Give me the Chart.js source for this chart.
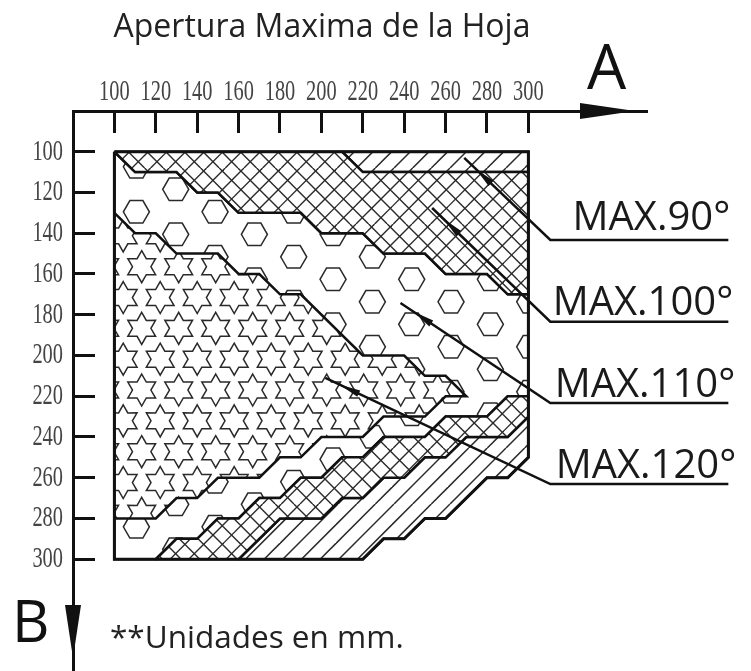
<!DOCTYPE html>
<html lang="es">
<head>
  <meta charset="UTF-8">
  <title>Apertura Maxima de la Hoja</title>
  <script src="https://cdn.jsdelivr.net/npm/chart.js"></script>
  <style>
    body { margin: 0; background: #fff; }
    canvas { display: block; }
  </style>
</head>
<body>
  <canvas id="chart" width="751" height="671"></canvas>

  <script>
    // axis ticks (mm), A runs along the top and B runs down the left
    const xTicks = [100, 120, 140, 160, 180, 200, 220, 240, 260, 280, 300];
    const yTicks = [100, 120, 140, 160, 180, 200, 220, 240, 260, 280, 300];

    // zones as [A, B] corners
    const max120Zone = [[100,130],[110,140],[120,140],[130,150],[150,150],[160,160],[170,160],[180,170],[190,170],[220,200],[240,200],[250,210],[260,210],[270,220],[260,220],[250,230],[230,230],[220,240],[200,240],[190,250],[180,250],[170,260],[150,260],[140,270],[130,270],[120,280],[100,280],[100,130]];
    const max110Zone = [[100,100],[110,110],[130,110],[140,120],[150,120],[160,130],[190,130],[200,140],[220,140],[230,150],[250,150],[260,160],[280,160],[290,170],[300,170],[300,220],[290,220],[280,230],[260,230],[250,240],[230,240],[220,250],[210,250],[200,260],[190,260],[180,270],[170,270],[160,280],[150,280],[140,290],[130,290],[120,300],[100,300],[100,100]];
    const max100ZoneUpper = [[100,100],[210,100],[220,110],[300,110],[300,170],[290,170],[280,160],[260,160],[250,150],[230,150],[220,140],[200,140],[190,130],[160,130],[150,120],[140,120],[130,110],[110,110],[100,100]];
    const max100ZoneLower = [[120,300],[130,290],[140,290],[150,280],[160,280],[170,270],[180,270],[190,260],[200,260],[210,250],[220,250],[230,240],[250,240],[260,230],[280,230],[290,220],[300,220],[300,230],[290,240],[270,240],[260,250],[250,250],[240,260],[230,260],[220,270],[210,270],[200,280],[180,280],[160,300],[120,300]];
    const max90ZoneUpper = [[210,100],[300,100],[300,110],[220,110],[210,100]];
    const max90ZoneLower = [[160,300],[180,280],[200,280],[210,270],[220,270],[230,260],[240,260],[250,250],[260,250],[270,240],[290,240],[300,230],[300,250],[290,260],[280,260],[260,280],[250,280],[240,290],[230,290],[220,300],[160,300]];
    const outline = [[100,100],[300,100],[300,250],[290,260],[280,260],[260,280],[250,280],[240,290],[230,290],[220,300],[100,300],[100,100]];

    // leader lines: start, elbow, end of the underline
    const leader90 = [[269,103],[310.6,143.3],[396.6,143.3]];
    const leader100 = [[253.5,127.6],[310.6,183.4],[396.6,183.4]];
    const leader110 = [[238.2,174.2],[310.6,223.3],[396.6,223.3]];
    const leader120 = [[201.9,211],[310.6,263.1],[396.6,263.1]];
    const leaderLabels = ['MAX.90°', 'MAX.100°', 'MAX.110°', 'MAX.120°'];

    function makeTile(w, h, draw) {
      const c = document.createElement('canvas');
      c.width = w;
      c.height = h;
      const g = c.getContext('2d');
      g.fillStyle = '#fff';
      g.fillRect(0, 0, w, h);
      g.strokeStyle = '#2a2a2a';
      g.lineWidth = 1.5;
      draw(g);
      return g.createPattern(c, 'repeat');
    }

    // tile is 3 periods wide so the spacing can stay at 18.67px
    function slashLines(g, size, offset) {
      const step = size / 3;
      for (let k = -6; k <= 12; k++) {
        const c = offset + k * step;
        g.beginPath();
        g.moveTo(c, 0);
        g.lineTo(c - size, size);
        g.stroke();
      }
    }
    function backslashLines(g, size, offset) {
      const step = size / 3;
      for (let k = -6; k <= 12; k++) {
        const c = offset + k * step;
        g.beginPath();
        g.moveTo(c, 0);
        g.lineTo(c + size, size);
        g.stroke();
      }
    }

    function polygon(g, cx, cy, radii, count, start) {
      g.beginPath();
      for (let i = 0; i < count; i++) {
        const a = start + i * 2 * Math.PI / count;
        const r = radii[i % radii.length];
        g.lineTo(cx + r * Math.cos(a), cy + r * Math.sin(a));
      }
      g.closePath();
      g.stroke();
    }

    const slashPattern = makeTile(56, 56, g => slashLines(g, 56, 2));
    const crossPattern = makeTile(56, 56, g => {
      g.lineWidth = 1.4;
      slashLines(g, 56, 1.3);
      backslashLines(g, 56, 13.9);
    });
    const hexPattern = makeTile(236, 135, g => {
      for (let i = -8; i <= 14; i++) {
        for (let j = -4; j <= 7; j++) {
          const cx = 175.7 + i * 236 / 6;
          const cy = 54.3 + j * 45 + (i % 2 ? 22.5 : 0);
          polygon(g, cx, cy, [13], 6, 0);
        }
      }
    });
    const starPattern = makeTile(111, 185, g => {
      for (let i = -5; i <= 8; i++) {
        for (let j = -8; j <= 14; j++) {
          const cx = 30.7 + i * 37 + (j % 2 ? 18.5 : 0);
          const cy = 81.7 + j * 185 / 6;
          polygon(g, cx, cy, [16, 9.2], 12, -Math.PI / 2);
        }
      }
    });

    const toPoints = list => list.map(p => ({ x: p[0], y: p[1] }));

    function zone(label, points, pattern) {
      return {
        label: label,
        data: toPoints(points),
        showLine: true,
        fill: 'shape',
        backgroundColor: pattern,
        borderColor: '#111',
        borderWidth: 2.5,
        pointRadius: 0,
        clip: false
      };
    }
    function line(label, points, width) {
      return {
        label: label,
        data: toPoints(points),
        showLine: true,
        fill: false,
        borderColor: '#111',
        borderWidth: width,
        pointRadius: 0,
        clip: false
      };
    }

    function triangle(ctx, pts) {
      ctx.beginPath();
      pts.forEach(p => ctx.lineTo(p[0], p[1]));
      ctx.closePath();
      ctx.fill();
    }

    // the tick font in the drawing is tall and narrow, so squeeze the labels sideways
    function squeezeLabels(scale) {
      const drawLabels = scale.drawLabels;
      scale.drawLabels = function (area) {
        const ctx = scale.ctx;
        const fillText = ctx.fillText;
        ctx.fillText = function (text, x, y) {
          ctx.save();
          ctx.translate(x, y);
          ctx.scale(0.68, 1);
          fillText.call(ctx, text, 0, 0);
          ctx.restore();
        };
        drawLabels.call(scale, area);
        delete ctx.fillText;
      };
    }

    const labelShift = [2, 5, 7, 8];
    const labelLift = [10, 7, 6, 6];

    const drawingNotes = {
      id: 'drawingNotes',
      afterLayout(chart) {
        // title sits left of the canvas centre, over the plot
        chart.titleBlock.right = 644;
      },
      beforeDraw(chart) {
        squeezeLabels(chart.scales.x);
        squeezeLabels(chart.scales.y);
      },
      afterDatasetsDraw(chart) {
        const ctx = chart.ctx;
        const { x, y } = chart.scales;
        const { top, left, right } = chart.chartArea;
        ctx.save();
        ctx.fillStyle = '#111';

        // axis arrows
        triangle(ctx, [[right - 67, top - 8], [right - 67, top + 8], [right - 12, top]]);
        triangle(ctx, [[left - 8, 605], [left + 8, 605], [left, 658]]);

        // small arrow heads along the leaders
        [leader90, leader100, leader110, leader120].forEach((leader, i) => {
          const x0 = x.getPixelForValue(leader[0][0]);
          const y0 = y.getPixelForValue(leader[0][1]);
          const x1 = x.getPixelForValue(leader[1][0]);
          const y1 = y.getPixelForValue(leader[1][1]);
          const len = Math.hypot(x1 - x0, y1 - y0);
          const ux = (x1 - x0) / len;
          const uy = (y1 - y0) / len;
          const tip = 16;
          const base = 37;
          triangle(ctx, [
            [x0 + ux * tip, y0 + uy * tip],
            [x0 + ux * base - uy * 3.5, y0 + uy * base + ux * 3.5],
            [x0 + ux * base + uy * 3.5, y0 + uy * base - ux * 3.5]
          ]);

          ctx.font = '40px "Open Sans"';
          ctx.textAlign = 'right';
          ctx.textBaseline = 'alphabetic';
          ctx.fillStyle = '#1a1a1a';
          ctx.fillText(leaderLabels[i], x.getPixelForValue(leader[2][0]) + labelShift[i], y1 - labelLift[i]);
          ctx.fillStyle = '#111';
        });

        ctx.textAlign = 'left';
        ctx.font = '62px "Open Sans"';
        ctx.fillText('A', 587, 89);
        ctx.font = '58px "Open Sans"';
        ctx.fillText('B', 12, 642);
        ctx.font = '31.5px "Open Sans"';
        ctx.fillStyle = '#222';
        ctx.fillText('**Unidades en mm.', 110, 648);
        ctx.restore();
      }
    };

    new Chart(document.getElementById('chart'), {
      type: 'scatter',
      data: {
        datasets: [
          line('Contorno', outline, 3),
          line('Guia 90', leader90, 2.5),
          line('Guia 100', leader100, 2.5),
          line('Guia 110', leader110, 2.5),
          line('Guia 120', leader120, 2.5),
          zone('MAX.120', max120Zone, starPattern),
          zone('MAX.100', max100ZoneUpper, crossPattern),
          zone('MAX.100', max100ZoneLower, crossPattern),
          zone('MAX.90', max90ZoneUpper, slashPattern),
          zone('MAX.90', max90ZoneLower, slashPattern),
          zone('MAX.110', max110Zone, hexPattern)
        ]
      },
      options: {
        responsive: false,
        animation: false,
        layout: { padding: { right: 104 } },
        plugins: {
          legend: { display: false },
          tooltip: { enabled: false },
          title: {
            display: true,
            text: 'Apertura Maxima de la Hoja',
            color: '#222',
            font: { family: '"Open Sans"', size: 32, weight: 'normal' },
            padding: { top: 9, bottom: 4.6 }
          }
        },
        scales: {
          x: {
            type: 'linear',
            position: 'top',
            min: 80,
            max: 357.3,
            afterBuildTicks: s => { s.ticks = xTicks.map(v => ({ value: v })); },
            afterFit: s => { s.height = 59; s.paddingLeft = 0; s.paddingRight = 0; },
            border: { color: '#111', width: 3 },
            grid: { drawOnChartArea: false, tickLength: -22, tickWidth: 3, tickColor: '#111' },
            ticks: { padding: 23, maxRotation: 0, autoSkip: false, color: '#444', font: { family: '"Liberation Serif"', size: 30 } }
          },
          y: {
            type: 'linear',
            reverse: true,
            min: 80,
            max: 354.85,
            afterBuildTicks: s => { s.ticks = yTicks.map(v => ({ value: v })); },
            afterFit: s => { s.width = 73; s.paddingTop = 0; s.paddingBottom = 0; },
            border: { color: '#111', width: 3 },
            grid: { drawOnChartArea: false, tickLength: -22, tickWidth: 3, tickColor: '#111' },
            ticks: { padding: 32, autoSkip: false, color: '#444', font: { family: '"Liberation Serif"', size: 30 } }
          }
        }
      },
      plugins: [drawingNotes]
    });
  </script>
</body>
</html>
